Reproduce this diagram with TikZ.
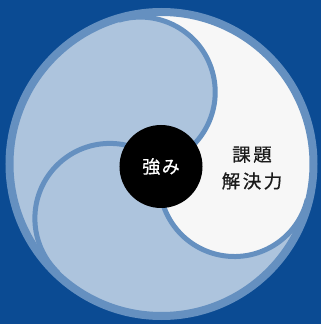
\documentclass[tikz,border=0pt]{standalone}
\usepackage{fontspec}
\newfontfamily\jp[FakeBold=0.6]{Noto Sans CJK JP}
\definecolor{bgblue}{HTML}{0B4B93}
\definecolor{ringblue}{HTML}{6590C0}
\definecolor{lightblue}{HTML}{ADC4DD}
\definecolor{paper}{HTML}{F7F7F7}
\definecolor{ink}{HTML}{1A1A1A}
\tikzset{
  divider/.style={draw=ringblue, line width=5pt},
  outerring/.style={draw=ringblue, line width=8pt},
  hub/.style={circle, fill=black, minimum size=83pt, inner sep=0pt},
}
\begin{document}
\begin{tikzpicture}[x=1pt,y=1pt]
\fill[bgblue] (-161.5,-160) rectangle (159.5,164);
\useasboundingbox (-161.5,-160) rectangle (159.5,164);
% base disc
\fill[lightblue] (0,0) circle[radius=152];
% white comma
\fill[paper] (106.5:150) arc[start angle=106.5, end angle=-13.5, radius=150]
  arc[start angle=-13.5, end angle=-193.5, radius=75]
  arc[start angle=-73.5, end angle=106.5, radius=75] -- cycle;
% dividers
\foreach \t in {106.5,-13.5,226.5}{
  \draw[divider] (\t:150) arc[start angle=\t, end angle=\t-180, radius=75];
}
% outer ring
\draw[outerring] (0,0) circle[radius=152];
% hub
\node[hub, text=white, font=\jp\fontsize{18}{20}\selectfont] (hub) at (-0.5,-2.5) {強\hspace{1.5pt}み};
\node[align=center, text=ink, font=\jp\fontsize{18.5}{26.7}\selectfont] (label) at (90.5,-4)
  {課\hspace{2.5pt}題\\解\hspace{2.5pt}決\hspace{2.5pt}力};
\end{tikzpicture}
\end{document}
